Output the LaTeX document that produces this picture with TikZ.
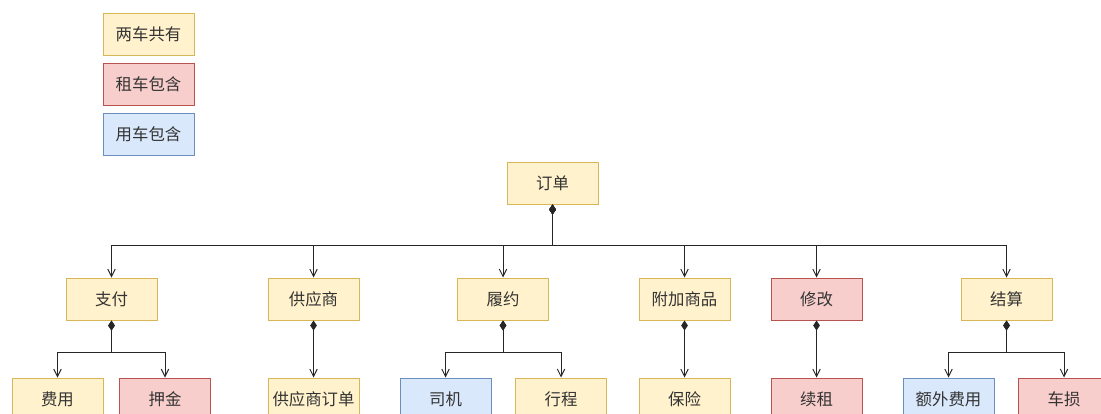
\documentclass[tikz,border=0pt]{standalone}
\usepackage{fontspec}
\setmainfont{Noto Sans CJK SC}
\usetikzlibrary{arrows.meta}

\definecolor{yfill}{HTML}{FFF2CC}\definecolor{ydraw}{HTML}{D6B656}
\definecolor{rfill}{HTML}{F8CECC}\definecolor{rdraw}{HTML}{B85450}
\definecolor{bfill}{HTML}{DAE8FC}\definecolor{bdraw}{HTML}{6C8EBF}
\definecolor{txt}{HTML}{333333}

\tikzset{
  box/.style={draw, line width=0.75pt, minimum width=68.25pt, minimum height=31.5pt,
    inner sep=0pt, text=txt, font=\fontsize{12.3pt}{14pt}\selectfont},
  both/.style={box, fill=yfill, draw=ydraw},
  rent/.style={box, fill=rfill, draw=rdraw},
  use/.style={box, fill=bfill, draw=bdraw},
  link/.style={draw=black!85, line width=0.75pt,
    {Diamond[length=7.5pt,width=5pt]}-{Straight Barb[length=5.5pt,width=5.5pt]}},
}

\begin{document}
\begin{tikzpicture}[x=0.75pt, y=-0.75pt]
  \useasboundingbox (0,0) rectangle (1101,414);

  % legend
  \node[both] (keyboth) at (148.5,34)  {两车共有};
  \node[rent] (keyrent) at (148.5,84)  {租车包含};
  \node[use]  (keyuse)  at (148.5,134) {用车包含};

  \node[both] (order) at (552.5,183) {订单};

  % second level
  \node[both] (pay)      at (111.5,299)  {支付};
  \node[both] (supplier) at (313.5,299)  {供应商};
  \node[both] (perform)  at (503,299)    {履约};
  \node[both] (extra)    at (684.5,299)  {附加商品};
  \node[rent] (modify)   at (816.5,299)  {修改};
  \node[both] (settle)   at (1006.5,299) {结算};

  % third level
  \node[both] (fee)      at (57.5,399)   {费用};
  \node[rent] (deposit)  at (165,399)    {押金};
  \node[both] (suporder) at (313.5,399)  {供应商订单};
  \node[use]  (driver)   at (445.5,399)  {司机};
  \node[both] (trip)     at (561,399)    {行程};
  \node[both] (insure)   at (684.5,399)  {保险};
  \node[rent] (renew)    at (816.5,399)  {续租};
  \node[use]  (surplus)  at (948.5,399)  {额外费用};
  \node[rent] (damage)   at (1064,399)   {车损};

  \coordinate (bus) at (0,245.3);
  \coordinate (sub) at (0,352.7);

  \foreach \c in {pay,supplier,perform,extra,modify,settle}
    \draw[link] (order.south) -- (order.south |- bus) -| (\c.north);

  \draw[link] (pay.south) -- (pay.south |- sub) -| (fee.north);
  \draw[link] (pay.south) -- (pay.south |- sub) -| (deposit.north);
  \draw[link] (supplier) -- (suporder);
  \draw[link] (perform.south) -- (perform.south |- sub) -| (driver.north);
  \draw[link] (perform.south) -- (perform.south |- sub) -| (trip.north);
  \draw[link] (extra) -- (insure);
  \draw[link] (modify) -- (renew);
  \draw[link] (settle.south) -- (settle.south |- sub) -| (surplus.north);
  \draw[link] (settle.south) -- (settle.south |- sub) -| (damage.north);
\end{tikzpicture}
\end{document}
